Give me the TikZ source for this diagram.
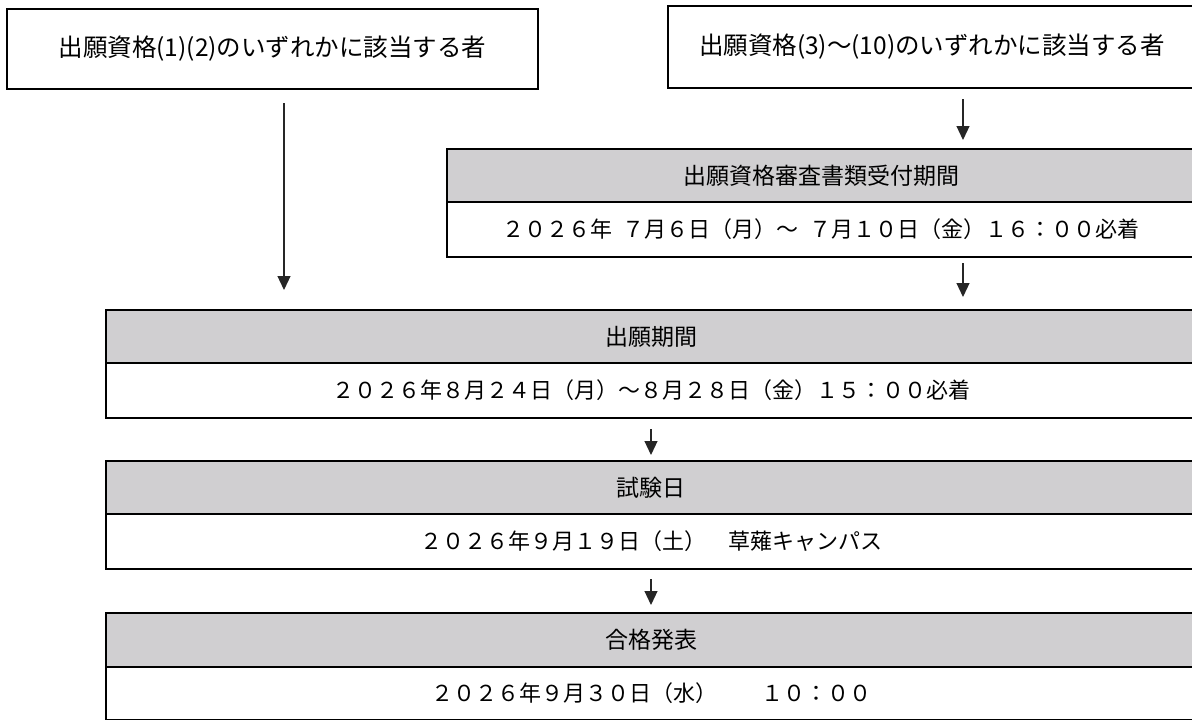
\documentclass[tikz,border=0pt]{standalone}
\usepackage{fontspec}
\setmainfont{Noto Sans CJK JP}
\usetikzlibrary{arrows.meta,calc}
\definecolor{hdrgray}{RGB}{208,207,209}
\begin{document}
\begin{tikzpicture}[x=1pt,y=-1pt,
  box/.style={draw=black, line width=2pt, inner sep=0pt, anchor=north west},
  topbox/.style={box, font=\fontsize{24.5}{24.5}\selectfont},
  hdr/.style={box, fill=hdrgray, font=\fontsize{23}{23}\selectfont},
  dbox/.style={box, fill=white, font=\fontsize{22}{22}\selectfont},
  arr/.style={draw=black!85, line width=1.2pt, -{Triangle[width=13pt,length=14pt]}}]
\useasboundingbox (0,0) rectangle (1192,720);
\clip (0,0) rectangle (1192,720);
\fill[white] (0,0) rectangle (1192,720);

% top boxes
\node[topbox, minimum width=531pt, minimum height=80pt] (L) at (6,8) {出願資格(1)(2)のいずれかに該当する者};
\node[topbox, minimum width=528pt, minimum height=82pt] (R) at (667,5) {出願資格(3)～(10)のいずれかに該当する者};

% screening
\node[hdr, minimum width=748pt, minimum height=53pt] (S1) at (446,148) {出願資格審査書類受付期間};
\node[dbox, minimum width=748pt, minimum height=55pt] (S2) at (446,201) {２０２６年 \kern6pt７月６日（月）～ \kern6pt７月１０日（金）１６：００必着};

% application period
\node[hdr, minimum width=1090pt, minimum height=53pt] (A1) at (105,309) {出願期間};
\node[dbox, minimum width=1090pt, minimum height=55pt] (A2) at (105,362) {２０２６年８月２４日（月）～８月２８日（金）１５：００必着};

% exam date
\node[hdr, minimum width=1090pt, minimum height=53pt] (B1) at (105,460) {試験日};
\node[dbox, minimum width=1090pt, minimum height=55pt] (B2) at (105,513) {２０２６年９月１９日（土）　草薙キャンパス};

% announcement
\node[hdr, minimum width=1090pt, minimum height=54pt] (C1) at (105,612) {合格発表};
\node[dbox, minimum width=1090pt, minimum height=53pt] (C2) at (105,666) {２０２６年９月３０日（水）　　１０：００};

% arrow columns
\coordinate (xl) at (284,0);
\coordinate (xr) at (963,0);

\draw[arr] ($(L.south -| xl)+(0,13)$) -- ($(A1.north -| xl)+(0,-19)$);
\draw[arr] ($(R.south -| xr)+(0,10)$) -- ($(S1.north -| xr)+(0,-8)$);
\draw[arr] ($(S2.south -| xr)+(0,5)$) -- ($(A1.north -| xr)+(0,-12)$);
\draw[arr] ($(A2.south)+(0,10)$) -- ($(B1.north)+(0,-5)$);
\draw[arr] ($(B2.south)+(0,9)$) -- ($(C1.north)+(0,-7)$);
\end{tikzpicture}
\end{document}
